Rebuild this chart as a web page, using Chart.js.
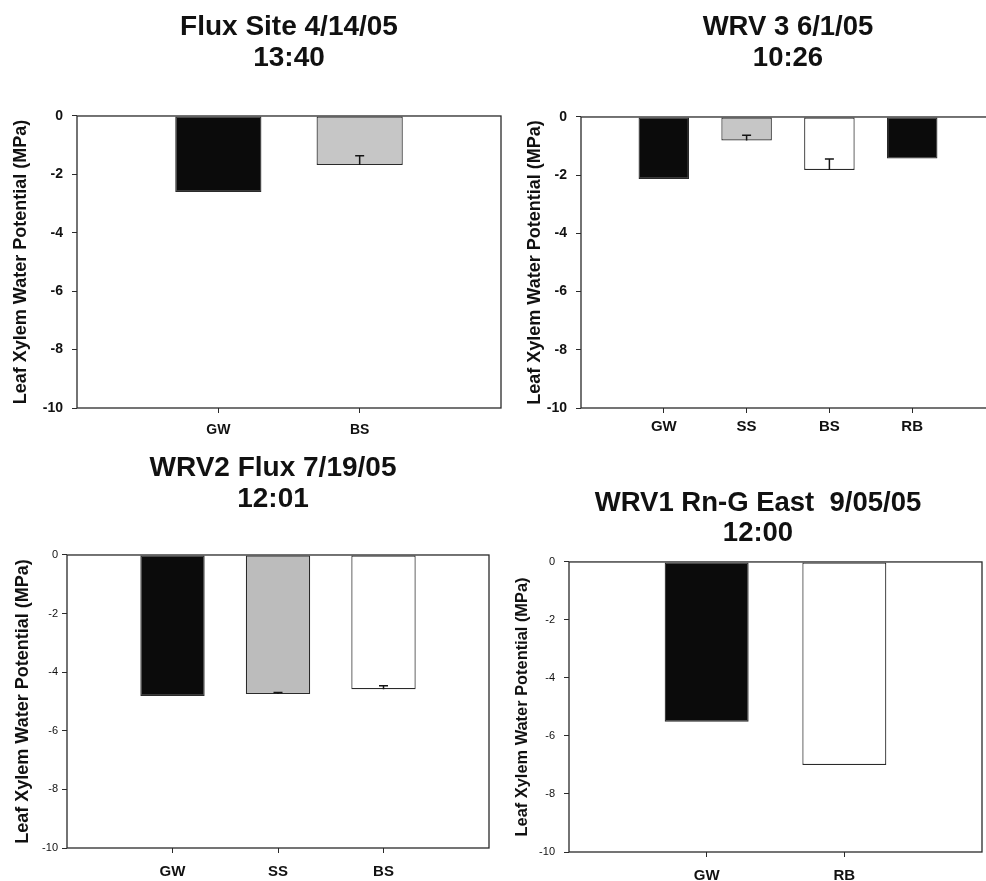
<!DOCTYPE html>
<html>
<head>
<meta charset="utf-8">
<title>Leaf Xylem Water Potential</title>
<script src="https://cdn.jsdelivr.net/npm/chart.js@4.4.1/dist/chart.umd.min.js"></script>
<style>
    html, body {
        margin: 0;
        padding: 0;
        background: #ffffff;
        overflow: hidden;
        width: 986px;
        height: 881px;
    }
    .panel {
        position: absolute;
    }
</style>
</head>
<body>
<div class="panel" style="left:0px; top:0px;"><canvas id="chart-flux" width="578" height="440"></canvas></div>
<div class="panel" style="left:493px; top:0px;"><canvas id="chart-wrv3" width="590" height="440"></canvas></div>
<div class="panel" style="left:0px; top:440px;"><canvas id="chart-wrv2" width="546" height="441"></canvas></div>
<div class="panel" style="left:493px; top:440px;"><canvas id="chart-wrv1" width="530" height="441"></canvas></div>

<script>
// Data (MPa)
const fluxTitle = ['Flux Site 4/14/05', '13:40'];
const fluxCategories = ['GW', 'BS'];
const fluxValues = [-2.6, -1.68];
const fluxErrors = [null, 0.32];

const wrv3Title = ['WRV 3 6/1/05', '10:26'];
const wrv3Categories = ['GW', 'SS', 'BS', 'RB'];
const wrv3Values = [-2.13, -0.81, -1.82, -1.43];
const wrv3Errors = [null, 0.18, 0.38, null];

const wrv2Title = ['WRV2 Flux 7/19/05', '12:01'];
const wrv2Categories = ['GW', 'SS', 'BS'];
const wrv2Values = [-4.81, -4.74, -4.58];
const wrv2Errors = [null, 0.05, 0.12];

const wrv1Title = ['WRV1 Rn-G East  9/05/05', '12:00'];
const wrv1Categories = ['GW', 'RB'];
const wrv1Values = [-5.51, -7.0];
const wrv1Errors = [null, null];

// Shared y axis
const yAxisTitle = 'Leaf Xylem Water Potential (MPa)';
const yMin = -10;
const yMax = 0;
const yStep = 2;

// Fill styles
const BLACK = '#0b0b0b';
const GRAY = '#c6c6c6';
const DARK_GRAY = '#bcbcbc';
const WHITE = '#ffffff';
const LINE = '#2a2a2a';

Chart.defaults.font.family = "'Liberation Sans', Arial, sans-serif";
Chart.defaults.color = '#111111';

// Draw the plot frame and the one-sided error bars
const framePlugin = {
    id: 'frameAndErrors',
    afterDatasetsDraw(chart) {
        const ctx = chart.ctx;
        const area = chart.chartArea;
        const yScale = chart.scales.y;

        chart.data.datasets.forEach((ds, di) => {
            const meta = chart.getDatasetMeta(di);
            meta.data.forEach((bar, i) => {
                const err = ds.errors[i];
                const value = ds.data[i];
                if (err == null || value == null) return;
                const yEnd = yScale.getPixelForValue(value + err);
                ctx.save();
                ctx.strokeStyle = '#151515';
                ctx.lineWidth = 1.5;
                ctx.beginPath();
                ctx.moveTo(bar.x, bar.y);
                ctx.lineTo(bar.x, yEnd);
                ctx.moveTo(bar.x - 4.5, yEnd);
                ctx.lineTo(bar.x + 4.5, yEnd);
                ctx.stroke();
                ctx.restore();
            });
        });

        ctx.save();
        ctx.strokeStyle = LINE;
        ctx.lineWidth = 1.3;
        ctx.strokeRect(area.left, area.top, area.right - area.left, area.bottom - area.top);
        ctx.restore();
    }
};

// Build one panel; the categories are padded with an empty slot at each end
function makePanel(canvasId, title, categories, values, errors, colors, layout) {
    const labels = ['', ...categories, ''];
    const data = [null, ...values, null];
    const errs = [null, ...errors, null];
    const fills = [WHITE, ...colors, WHITE];
    const last = labels.length - 1;

    return new Chart(document.getElementById(canvasId), {
        type: 'bar',
        data: {
            labels: labels,
            datasets: [{
                data: data,
                errors: errs,
                backgroundColor: fills,
                borderColor: LINE,
                borderWidth: 1.2,
                borderSkipped: false,
                barPercentage: 0.61,
                categoryPercentage: 1
            }]
        },
        options: {
            responsive: false,
            animation: false,
            layout: {
                padding: 0
            },
            plugins: {
                legend: { display: false },
                tooltip: { enabled: false },
                title: {
                    display: true,
                    fullSize: true,
                    text: title,
                    color: '#111111',
                    font: { size: layout.titleSize, weight: 'bold', lineHeight: layout.titleLine },
                    padding: { top: layout.titleTop, bottom: layout.titleBottom }
                }
            },
            scales: {
                x: {
                    offset: false,
                    grid: {
                        offset: false,
                        drawOnChartArea: false,
                        drawTicks: true,
                        tickLength: 5,
                        tickColor: (ctx) => (ctx.index === 0 || ctx.index === last) ? 'rgba(0,0,0,0)' : LINE
                    },
                    border: { display: false },
                    ticks: {
                        padding: layout.xPad,
                        color: '#111111',
                        font: { size: layout.xFont, weight: 'bold' },
                        maxRotation: 0,
                        autoSkip: false
                    },
                    afterFit: (scale) => { scale.width = 0; scale.height = layout.xHeight; }
                },
                y: {
                    min: yMin,
                    max: yMax,
                    grid: {
                        drawOnChartArea: false,
                        drawTicks: true,
                        tickLength: 5,
                        tickColor: LINE
                    },
                    border: { display: false },
                    ticks: {
                        stepSize: yStep,
                        padding: layout.yPad,
                        color: '#111111',
                        font: { size: layout.yFont, weight: layout.yWeight }
                    },
                    title: {
                        display: true,
                        text: yAxisTitle,
                        color: '#111111',
                        font: { size: layout.yTitleSize, weight: 'bold', lineHeight: 1.2 },
                        padding: { top: layout.yTitlePad, bottom: 0 }
                    },
                    afterFit: (scale) => { scale.width = layout.yWidth; }
                },
                // empty right-hand axis that only reserves the space right of the frame
                spacer: {
                    type: 'linear',
                    position: 'right',
                    display: true,
                    grid: { display: false },
                    border: { display: false },
                    ticks: { display: false },
                    afterFit: (scale) => { scale.width = layout.padRight; }
                }
            }
        },
        plugins: [framePlugin]
    });
}

makePanel('chart-flux', fluxTitle, fluxCategories, fluxValues, fluxErrors, [BLACK, GRAY], {
    padRight: 77, titleSize: 28, titleLine: 1.107, titleTop: 12, titleBottom: 42,
    xPad: 9, xFont: 14, xHeight: 32,
    yPad: 9, yFont: 14, yWeight: 'bold', yTitleSize: 18, yTitlePad: 10, yWidth: 77
});

makePanel('chart-wrv3', wrv3Title, wrv3Categories, wrv3Values, wrv3Errors, [BLACK, GRAY, WHITE, BLACK], {
    padRight: 88, titleSize: 27.5, titleLine: 1.127, titleTop: 12, titleBottom: 43,
    xPad: 5, xFont: 15, xHeight: 32,
    yPad: 9, yFont: 14, yWeight: 'bold', yTitleSize: 18, yTitlePad: 31, yWidth: 88
});

makePanel('chart-wrv2', wrv2Title, wrv2Categories, wrv2Values, wrv2Errors, [BLACK, DARK_GRAY, WHITE], {
    padRight: 57, titleSize: 28, titleLine: 1.107, titleTop: 13, titleBottom: 40,
    xPad: 10, xFont: 15, xHeight: 33,
    yPad: 4, yFont: 11, yWeight: 'normal', yTitleSize: 18, yTitlePad: 12, yWidth: 67
});

makePanel('chart-wrv1', wrv1Title, wrv1Categories, wrv1Values, wrv1Errors, [BLACK, WHITE], {
    padRight: 41, titleSize: 27.5, titleLine: 1.09, titleTop: 48.5, titleBottom: 13.5,
    xPad: 10, xFont: 15, xHeight: 29,
    yPad: 9, yFont: 11, yWeight: 'normal', yTitleSize: 16.4, yTitlePad: 20, yWidth: 76
});
</script>
</body>
</html>
